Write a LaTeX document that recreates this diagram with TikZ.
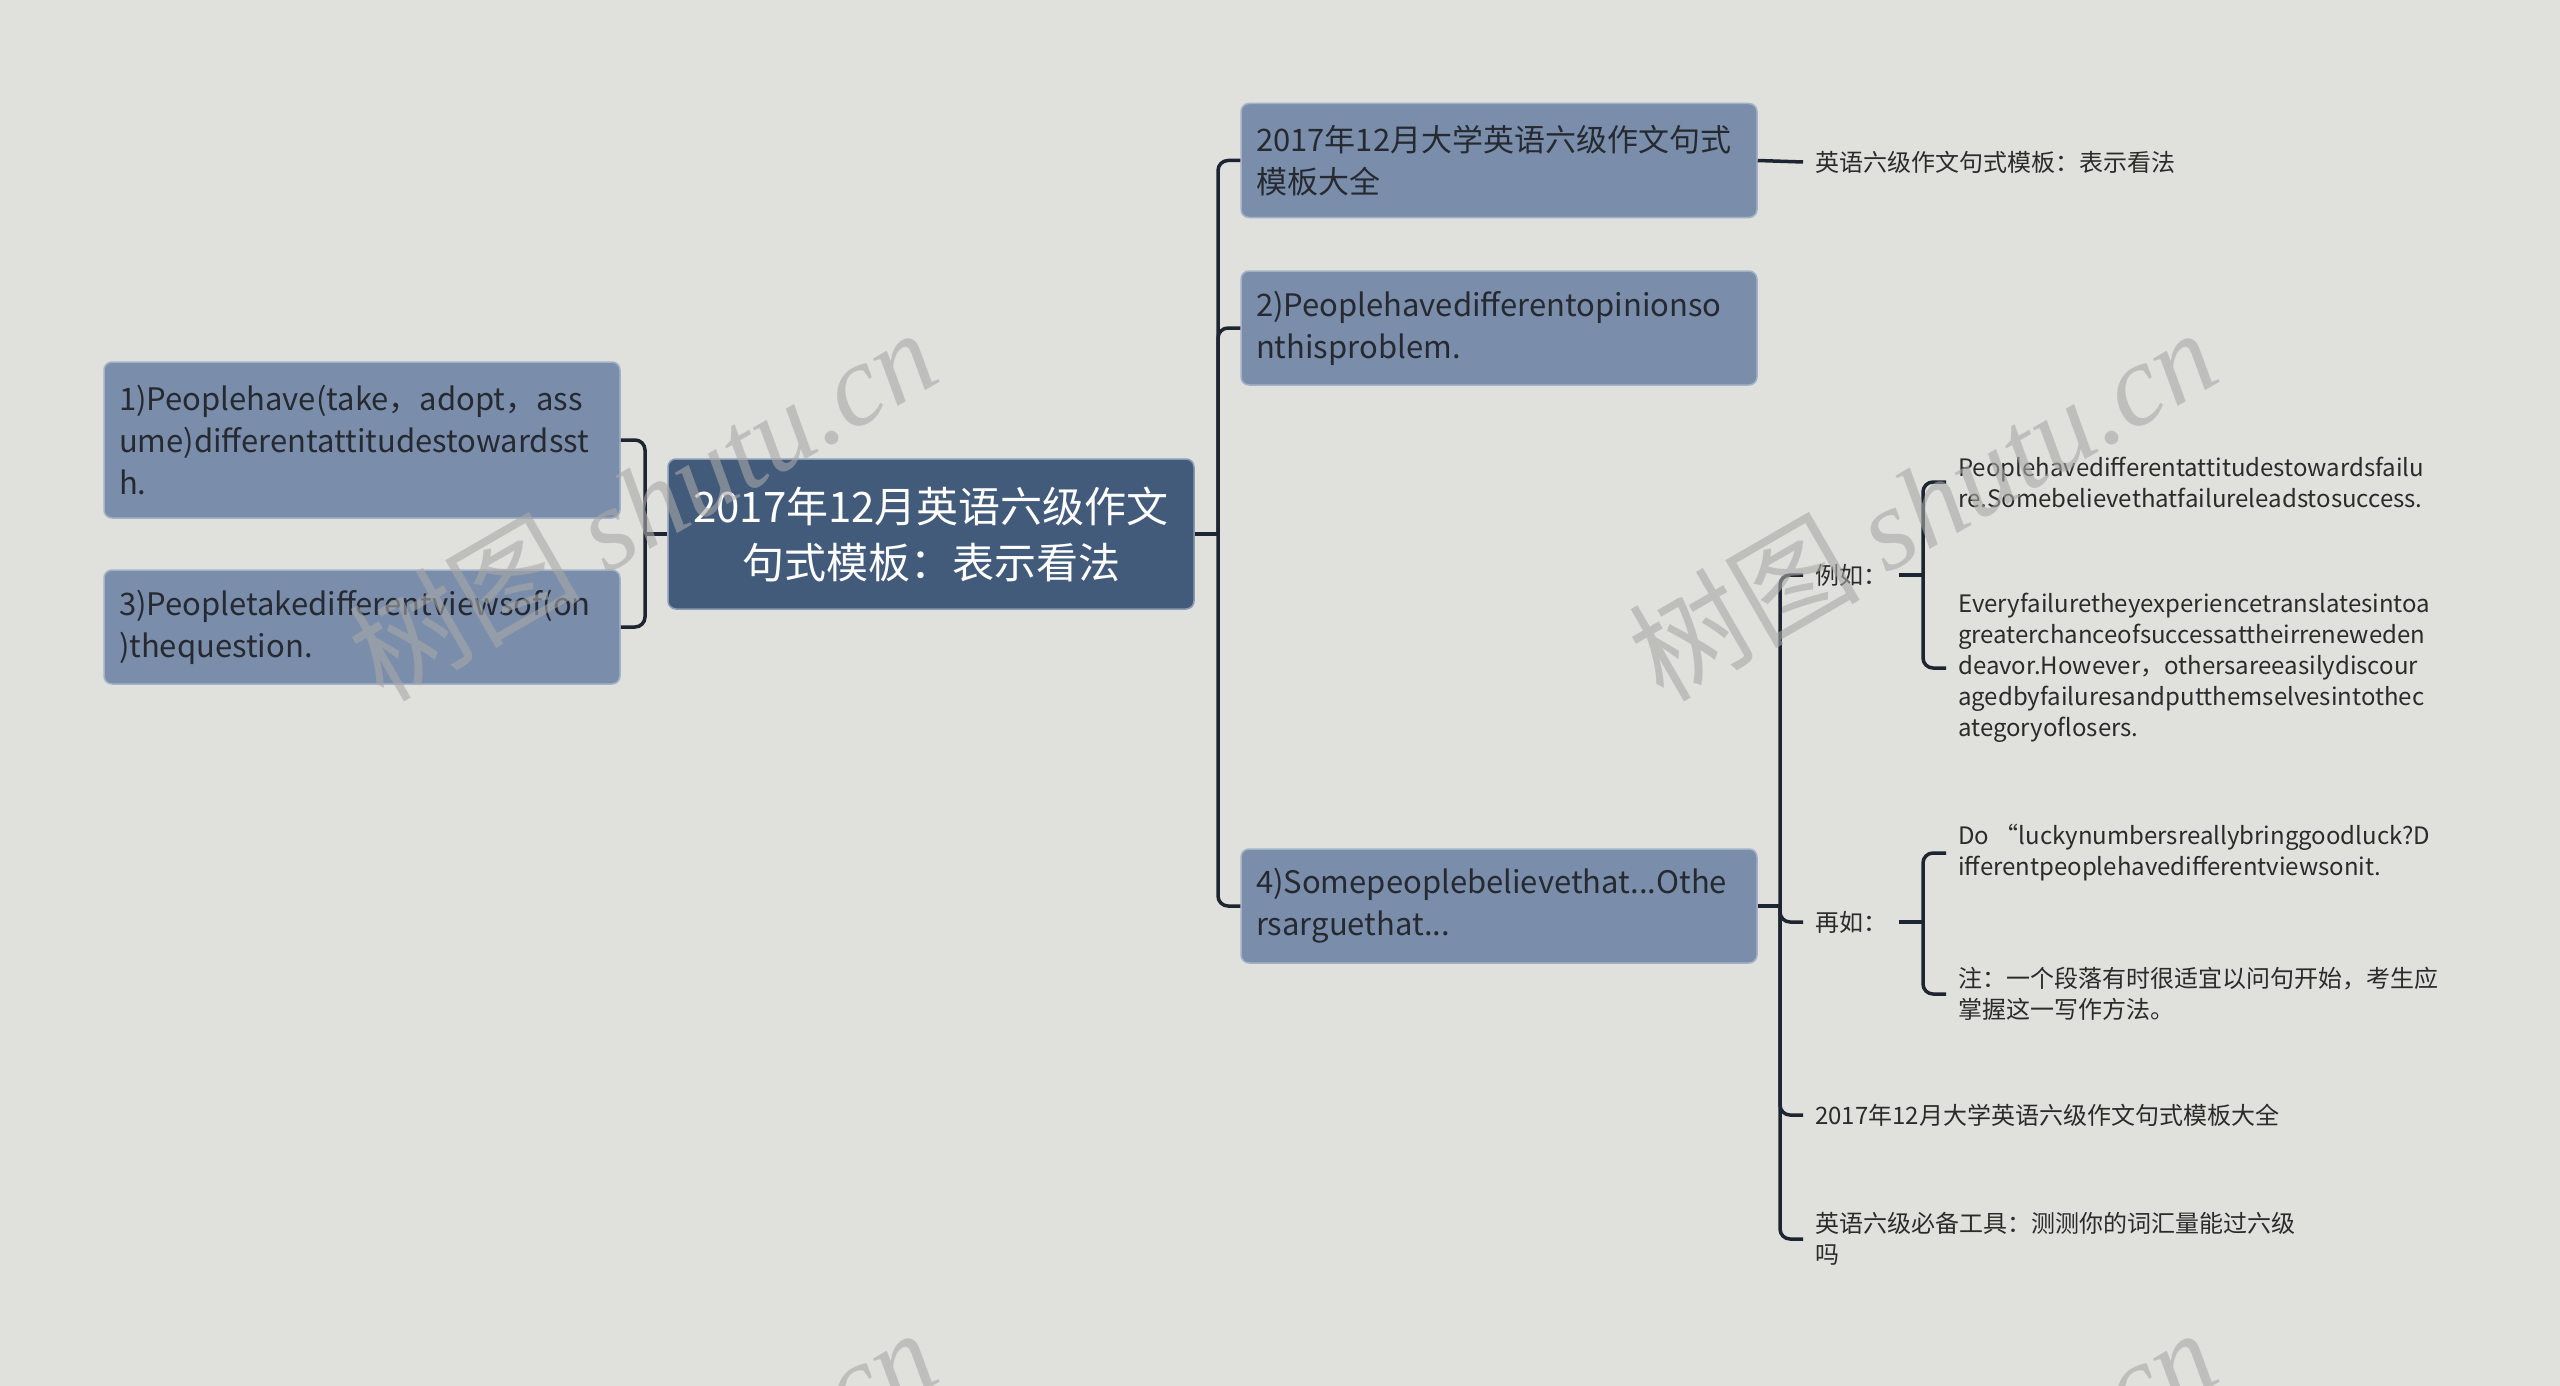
\documentclass[tikz,border=0pt]{standalone}
\usepackage{fontspec}
\setmainfont{Noto Sans CJK SC}
\newfontfamily\wmlatin{Liberation Serif}
\usetikzlibrary{calc}
\definecolor{bg}{HTML}{E0E0DC}
\definecolor{rootfill}{HTML}{435B7B}
\definecolor{rootedge}{HTML}{8A9BB3}
\definecolor{topicfill}{HTML}{7A8EAB}
\definecolor{topicedge}{HTML}{A3B2C6}
\definecolor{topictext}{HTML}{262A30}
\definecolor{leaftext}{HTML}{2B2B2B}
\definecolor{linecol}{HTML}{1E2532}
\definecolor{wmcol}{HTML}{A8A8A8}
\tikzset{
  rootbox/.style={rounded corners=8pt, fill=rootfill, draw=rootedge, line width=1.5pt,
    text=white, font=\fontsize{42}{56}\selectfont, align=center,
    minimum width=526pt, minimum height=150pt, inner sep=0pt},
  topic/.style={rounded corners=8pt, fill=topicfill, draw=topicedge, line width=1.5pt,
    text=topictext, font=\fontsize{31}{42}\selectfont, align=left,
    text width=486pt, inner xsep=15pt, inner ysep=0pt, minimum height=114pt},
  leaf/.style={anchor=west, inner xsep=12pt, inner ysep=0pt, align=left,
    text=leaftext, font=\fontsize{24}{31}\selectfont},
  conn/.style={draw=linecol, line width=3.5pt},
  branch/.style={conn, rounded corners=10pt},
  wm/.style={text=wmcol, text opacity=0.6, rotate=30, inner sep=0pt,
    font=\fontsize{116}{116}\selectfont}
}
\begin{document}
\begin{tikzpicture}[x=1pt,y=-1pt]
\fill[bg] (0,0) rectangle (2560,1386);
\useasboundingbox (0,0) rectangle (2560,1386);

% root and main topics
\node[rootbox] (root) at (931,534) {2017年12月英语六级作文\\句式模板：表示看法};
\node[topic, minimum height=156pt] (t1) at (362,440) {1)Peoplehave(take，adopt，ass\\ume)differentattitudestowardsst\\h.};
\node[topic] (t3) at (362,627) {3)Peopletakedifferentviewsof(on\\)thequestion.};
\node[topic] (tA) at (1499,160.5) {2017年12月大学英语六级作文句式\\模板大全};
\node[topic] (tB) at (1499,328) {2)Peoplehavedifferentopinionso\\nthisproblem.};
\node[topic] (tC) at (1499,906) {4)Somepeoplebelievethat...Othe\\rsarguethat...};

% leaves
\node[leaf] (lA) at (1803,162) {英语六级作文句式模板：表示看法};
\node[leaf] (lEg) at (1803,575) {例如：};
\node[leaf] (lAgain) at (1803,922) {再如：};
\node[leaf] (lAll) at (1803,1115) {2017年12月大学英语六级作文句式模板大全};
\node[leaf] (lTool) at (1803,1239) {英语六级必备工具：测测你的词汇量能过六级\\吗};
\node[leaf] (e1) at (1946,482) {Peoplehavedifferentattitudestowardsfailu\\re.Somebelievethatfailureleadstosuccess.};
\node[leaf] (e2) at (1946,668) {Everyfailuretheyexperiencetranslatesintoa\\greaterchanceofsuccessattheirreneweden\\deavor.However，othersareeasilydiscour\\agedbyfailuresandputthemselvesintothec\\ategoryoflosers.};
\node[leaf] (a1) at (1946,853) {Do “luckynumbersreallybringgoodluck?D\\ifferentpeoplehavedifferentviewsonit.};
\node[leaf] (a2) at (1946,994) {注：一个段落有时很适宜以问句开始，考生应\\掌握这一写作方法。};

% spine points
\coordinate (sL) at (645,534);
\coordinate (sR) at (1218,534);
\coordinate (sC) at (1780,906);
\coordinate (sEg) at (1923,575);
\coordinate (sAg) at (1923,922);

% connectors: root left
\draw[conn] (root.west) -- (sL);
\draw[branch] (sL) |- (t1.east);
\draw[branch] (sL) |- (t3.east);
% root right
\draw[conn] (root.east) -- (sR);
\draw[branch] (sR) |- (tA.west);
\draw[branch] (sR) |- (tB.west);
\draw[branch] (sR) |- (tC.west);
% topic A
\draw[conn] (tA.east) -- (lA.west);
% topic C
\draw[conn] (tC.east) -- (sC);
\draw[branch] (sC) |- (lEg.west);
\draw[branch] (sC) |- (lAgain.west);
\draw[branch] (sC) |- (lAll.west);
\draw[branch] (sC) |- (lTool.west);
% example
\draw[conn] (lEg.east) -- (sEg);
\draw[branch] (sEg) |- (e1.west);
\draw[branch] (sEg) |- (e2.west);
% again
\draw[conn] (lAgain.east) -- (sAg);
\draw[branch] (sAg) |- (a1.west);
\draw[branch] (sAg) |- (a2.west);

% watermarks
\begin{scope}
\clip (0,0) rectangle (2560,1386);
\node[wm] (w1) at (642,503) {树图 {\wmlatin\itshape shutu.cn}};
\node[wm] (w2) at (1922,503) {树图 {\wmlatin\itshape shutu.cn}};
\node[wm] (w3) at (642,1503) {树图 {\wmlatin\itshape shutu.cn}};
\node[wm] (w4) at (1922,1503) {树图 {\wmlatin\itshape shutu.cn}};
\end{scope}
\end{tikzpicture}
\end{document}
